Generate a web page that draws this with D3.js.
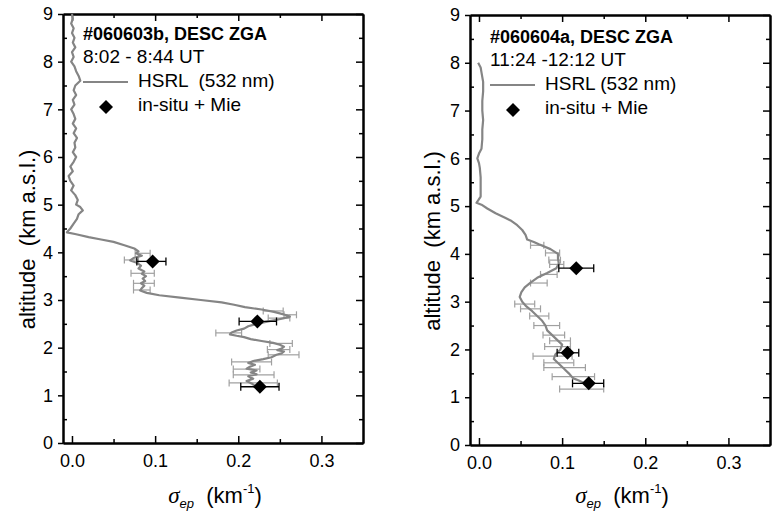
<!DOCTYPE html>
<html><head><meta charset="utf-8">
<script src="https://cdn.jsdelivr.net/npm/d3@7"></script>
<style>html,body{margin:0;padding:0;background:#fff;} text{font-family:"Liberation Sans",Arial,sans-serif;white-space:pre;}</style>
</head><body>
<svg id="c" width="772" height="513"></svg>
<script>
// ---------- DATA ----------
const xTicks = [0.0, 0.1, 0.2, 0.3];
const xTickLabels = ["0.0", "0.1", "0.2", "0.3"];
const yTicks = [0,1,2,3,4,5,6,7,8,9];

// Left panel: #060603b  [altitude km, extinction km^-1]
const hsrlA = [[9.0,0.000],[8.9,0.001],[8.8,-0.001],[8.7,0.002],[8.6,0.000],[8.5,0.003],[8.4,0.001],[8.3,0.004],[8.2,0.000],[8.1,0.002],[8.0,-0.001],[7.9,0.003],[7.8,0.005],[7.7,0.008],[7.6,0.010],[7.5,0.004],[7.4,0.002],[7.3,0.005],[7.2,0.001],[7.1,0.003],[7.0,-0.001],[6.9,0.002],[6.8,0.004],[6.7,0.001],[6.6,0.005],[6.5,0.002],[6.4,0.006],[6.3,0.003],[6.2,0.004],[6.1,0.001],[6.0,0.005],[5.9,0.002],[5.8,-0.002],[5.7,0.001],[5.6,-0.004],[5.5,-0.002],[5.4,0.002],[5.3,-0.001],[5.2,0.004],[5.1,0.007],[5.0,0.005],[4.95,0.010],[4.88,0.013],[4.8,0.008],[4.7,0.006],[4.6,0.002],[4.5,-0.002],[4.42,-0.006],[4.38,0.005],[4.32,0.020],[4.27,0.035],[4.22,0.050],[4.15,0.063],[4.08,0.075],[4.02,0.080],[3.98,0.077],[3.93,0.084],[3.88,0.074],[3.83,0.070],[3.78,0.078],[3.72,0.083],[3.66,0.080],[3.6,0.087],[3.55,0.084],[3.5,0.089],[3.45,0.085],[3.4,0.088],[3.35,0.083],[3.3,0.087],[3.25,0.084],[3.2,0.082],[3.15,0.090],[3.1,0.105],[3.05,0.130],[3.0,0.155],[2.95,0.180],[2.9,0.195],[2.85,0.208],[2.8,0.228],[2.75,0.243],[2.72,0.250],[2.68,0.258],[2.65,0.262],[2.62,0.255],[2.59,0.248],[2.55,0.236],[2.5,0.222],[2.45,0.212],[2.4,0.207],[2.36,0.198],[2.32,0.192],[2.28,0.190],[2.25,0.198],[2.22,0.207],[2.18,0.215],[2.14,0.228],[2.1,0.242],[2.06,0.250],[2.02,0.255],[1.98,0.252],[1.95,0.247],[1.92,0.255],[1.88,0.252],[1.85,0.246],[1.8,0.240],[1.76,0.230],[1.72,0.218],[1.68,0.212],[1.64,0.220],[1.6,0.214],[1.56,0.210],[1.52,0.222],[1.48,0.215],[1.44,0.222],[1.4,0.212],[1.35,0.218],[1.3,0.210],[1.25,0.216],[1.2,0.220]];
// [altitude, low, high]
const hsrlErrA = [[3.98,0.076,0.094],[3.84,0.063,0.080],[3.56,0.071,0.099],[3.35,0.074,0.099],[3.21,0.074,0.094],[2.77,0.230,0.254],[2.69,0.255,0.270],[2.62,0.236,0.262],[2.31,0.173,0.204],[2.09,0.238,0.265],[1.96,0.235,0.262],[1.85,0.236,0.273],[1.70,0.192,0.240],[1.55,0.194,0.226],[1.43,0.194,0.243],[1.26,0.189,0.247]];
// in-situ + Mie: [altitude, value, low, high]
const insituA = [[3.81,0.097,0.078,0.113],[2.55,0.223,0.201,0.246],[1.18,0.226,0.203,0.249]];

// Right panel: #060604a
const hsrlB = [[8.0,-0.001],[7.9,0.002],[7.8,0.003],[7.6,0.005],[7.4,0.005],[7.2,0.004],[7.0,0.004],[6.8,0.005],[6.6,0.004],[6.4,0.004],[6.2,0.003],[6.1,0.000],[6.0,-0.002],[5.9,0.000],[5.8,0.001],[5.6,0.002],[5.4,0.002],[5.2,0.002],[5.12,-0.001],[5.07,-0.003],[5.03,0.003],[4.95,0.010],[4.85,0.020],[4.75,0.032],[4.7,0.038],[4.6,0.046],[4.5,0.052],[4.4,0.056],[4.3,0.058],[4.25,0.066],[4.2,0.072],[4.1,0.086],[4.0,0.095],[3.9,0.095],[3.8,0.096],[3.7,0.093],[3.6,0.082],[3.5,0.070],[3.4,0.062],[3.3,0.055],[3.2,0.051],[3.1,0.049],[3.0,0.052],[2.9,0.057],[2.8,0.064],[2.7,0.070],[2.6,0.076],[2.5,0.080],[2.4,0.082],[2.3,0.088],[2.2,0.094],[2.1,0.100],[2.0,0.098],[1.9,0.092],[1.8,0.090],[1.7,0.096],[1.6,0.102],[1.5,0.108],[1.4,0.113],[1.35,0.120],[1.3,0.126],[1.25,0.130]];
const hsrlErrB = [[4.18,0.062,0.078],[4.02,0.080,0.097],[3.87,0.084,0.098],[3.78,0.085,0.102],[3.57,0.074,0.094],[3.39,0.062,0.082],[2.95,0.043,0.067],[2.85,0.050,0.074],[2.70,0.061,0.084],[2.50,0.066,0.097],[2.30,0.077,0.103],[2.18,0.085,0.110],[2.06,0.079,0.110],[1.86,0.065,0.112],[1.72,0.078,0.114],[1.62,0.078,0.128],[1.43,0.088,0.139],[1.17,0.097,0.150]];
const insituB = [[3.70,0.117,0.096,0.138],[1.93,0.1065,0.094,0.120],[1.29,0.132,0.1125,0.150]];

const titleA = "#060603b, DESC ZGA", timeA = "8:02 - 8:44 UT", hsrlLabelA = "HSRL  (532 nm)";
const titleB = "#060604a, DESC ZGA", timeB = "11:24 -12:12 UT", hsrlLabelB = "HSRL (532 nm)";
const insituLabel = "in-situ + Mie";
const yTitle = "altitude  (km a.s.l.)";

// ---------- DRAW ----------
const svg = d3.select("#c");
const xDomain = [-0.0108, 0.35];
const lineColor = "#858585", errColor = "#a0a0a0";
const FONT = "'Liberation Sans',Arial,sans-serif";

function panel(o) {
  const x = d3.scaleLinear().domain(xDomain).range([o.x0, o.x1]);
  const y = d3.scaleLinear().domain([0, 9]).range([o.y0, o.y1]);
  const g = svg.append("g");

  const xb = d3.axisBottom(x).tickValues(xTicks).tickFormat((d,i)=>xTickLabels[i]).tickSizeInner(-7).tickSizeOuter(0).tickPadding(11);
  const gxb = g.append("g").attr("transform",`translate(0,${o.y0})`).call(xb);
  gxb.selectAll("text").attr("font-size",18).attr("fill","#000").attr("font-family",FONT);
  const xm = d3.axisBottom(x).tickValues(d3.range(0.05,0.35,0.1)).tickFormat("").tickSizeInner(-4).tickSizeOuter(0);
  g.append("g").attr("transform",`translate(0,${o.y0})`).call(xm);
  const xt = d3.axisTop(x).tickValues(xTicks).tickFormat("").tickSizeInner(-7).tickSizeOuter(0);
  g.append("g").attr("transform",`translate(0,${o.y1})`).call(xt);
  g.append("g").attr("transform",`translate(0,${o.y1})`).call(d3.axisTop(x).tickValues(d3.range(0.05,0.35,0.1)).tickFormat("").tickSizeInner(-4).tickSizeOuter(0));
  const yl = d3.axisLeft(y).tickValues(yTicks).tickFormat(d3.format("d")).tickSizeInner(5).tickSizeOuter(0).tickPadding(5);
  const gyl = g.append("g").attr("transform",`translate(${o.x0},0)`).call(yl);
  gyl.selectAll("text").attr("font-size",18).attr("fill","#000").attr("font-family",FONT);
  g.append("g").attr("transform",`translate(${o.x0},0)`).call(d3.axisLeft(y).tickValues(d3.range(0.5,9,1)).tickFormat("").tickSizeInner(-4).tickSizeOuter(0));
  g.append("g").attr("transform",`translate(${o.x1},0)`).call(d3.axisRight(y).tickValues(yTicks).tickFormat("").tickSizeInner(-7).tickSizeOuter(0));
  g.append("g").attr("transform",`translate(${o.x1},0)`).call(d3.axisRight(y).tickValues(d3.range(0.5,9,1)).tickFormat("").tickSizeInner(-4).tickSizeOuter(0));
  g.selectAll(".domain").attr("stroke","#000").attr("stroke-width",2);
  g.selectAll(".tick line").attr("stroke","#000").attr("stroke-width",1.5);

  const eb = g.append("g").attr("stroke",errColor).attr("stroke-width",1.2).attr("fill","none");
  o.err.forEach(e=>{
    const yy=y(e[0]), a=x(e[1]), b=x(e[2]);
    eb.append("line").attr("x1",a).attr("x2",b).attr("y1",yy).attr("y2",yy);
    eb.append("line").attr("x1",a).attr("x2",a).attr("y1",yy-3.5).attr("y2",yy+3.5);
    eb.append("line").attr("x1",b).attr("x2",b).attr("y1",yy-3.5).attr("y2",yy+3.5);
  });
  g.append("path").datum(o.hsrl).attr("fill","none").attr("stroke",lineColor).attr("stroke-width",2.2)
    .attr("stroke-linejoin","round")
    .attr("d",d3.line().x(d=>x(d[1])).y(d=>y(d[0])));
  const ib = g.append("g").attr("stroke","#000").attr("stroke-width",1.3);
  o.insitu.forEach(e=>{
    const yy=y(e[0]), a=x(e[2]), b=x(e[3]);
    ib.append("line").attr("x1",a).attr("x2",b).attr("y1",yy).attr("y2",yy);
    ib.append("line").attr("x1",a).attr("x2",a).attr("y1",yy-4).attr("y2",yy+4);
    ib.append("line").attr("x1",b).attr("x2",b).attr("y1",yy-4).attr("y2",yy+4);
  });
  const diamond = d3.symbol().type(d3.symbolDiamond2).size(125);
  g.selectAll(".dm").data(o.insitu).join("path").attr("d",diamond)
    .attr("transform",d=>`translate(${x(d[1])},${y(d[0])})`).attr("fill","#000");

  const lg = g.append("g");
  lg.append("text").attr("x",o.lx).attr("y",o.ly).attr("font-size",18).attr("font-weight","bold").text(o.title);
  lg.append("text").attr("x",o.lx).attr("y",o.ly+23).attr("font-size",19).text(o.time);
  lg.append("line").attr("x1",o.lx).attr("x2",o.lx+45).attr("y1",o.ly+42).attr("y2",o.ly+42).attr("stroke",lineColor).attr("stroke-width",2.2);
  lg.append("text").attr("x",o.ltx).attr("y",o.ly+47).attr("font-size",19).text(o.hsrlLabel);
  lg.append("path").attr("d",diamond).attr("transform",`translate(${o.lx+23},${o.ly+67})`).attr("fill","#000");
  lg.append("text").attr("x",o.ltx).attr("y",o.ly+71).attr("font-size",19).text(insituLabel);

  const cy = (o.y0+o.y1)/2 + 11;
  g.append("text").attr("transform",`translate(${o.ytx},${cy}) rotate(-90)`).attr("text-anchor","middle")
    .attr("font-size",22).text(yTitle);
  const cx = (o.x0+o.x1)/2;
  const xt2 = g.append("text").attr("x",cx+2).attr("y",503).attr("text-anchor","middle").attr("font-size",22);
  xt2.append("tspan").attr("font-family","'Liberation Serif','DejaVu Serif',serif").attr("font-style","italic").attr("font-size",23).text("σ");
  xt2.append("tspan").attr("font-style","italic").attr("font-size",13).attr("dy",5).text("ep");
  xt2.append("tspan").attr("dy",-5).text("  (km");
  xt2.append("tspan").attr("font-size",13).attr("dy",-10).text("-1");
  xt2.append("tspan").attr("dy",10).text(")");
}

panel({x0:63,x1:363,y0:443,y1:14,hsrl:hsrlA,err:hsrlErrA,insitu:insituA,title:titleA,time:timeA,hsrlLabel:hsrlLabelA,lx:83,ly:40,ltx:138,ytx:35});
panel({x0:470,x1:770,y0:445,y1:15,hsrl:hsrlB,err:hsrlErrB,insitu:insituB,title:titleB,time:timeB,hsrlLabel:hsrlLabelB,lx:490,ly:43,ltx:545,ytx:440});
</script>
</body></html>
